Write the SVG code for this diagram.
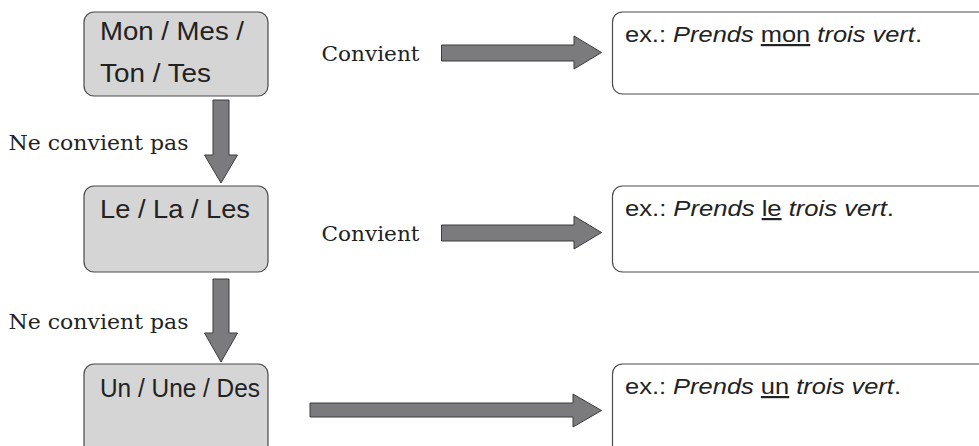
<svg xmlns="http://www.w3.org/2000/svg" width="979" height="446" viewBox="0 0 979 446">
<style>
.lb{fill:#d5d5d6;stroke:#4a4a4a;stroke-width:1.2}
.rb{fill:#ffffff;stroke:#4a4a4a;stroke-width:1.2}
.ar{fill:#7b7b7e;stroke:#3c3c3c;stroke-width:1}
.s{font-family:"Liberation Sans",Arial,sans-serif;font-size:25px;fill:#222}
.e{font-family:"Liberation Sans",Arial,sans-serif;font-size:22px;fill:#222}
.r{font-family:"DejaVu Serif","Liberation Serif",serif;font-size:20px;fill:#222}
.i{font-style:italic}
.u{text-decoration:underline}
</style>
<rect width="979" height="446" fill="#ffffff"/>
<g id="connectors">
<path class="ar" d="M441.5,45 L574,45 L574,36 L601.5,52.5 L574,69 L574,61 L441.5,61 Z"/>
<path class="ar" d="M441.5,225 L574,225 L574,216 L601.5,232.5 L574,249 L574,241 L441.5,241 Z"/>
<path class="ar" d="M310,403 L573,403 L573,394 L601.5,410.5 L573,427 L573,417 L310,417 Z"/>
<path class="ar" d="M213,100 L229,100 L229,155 L237.5,155 L221,183 L204.5,155 L213,155 Z"/>
<path class="ar" d="M213,279 L229,279 L229,333 L237.5,333 L221,362 L204.5,333 L213,333 Z"/>
<text class="r" x="321.5" y="61" textLength="98" lengthAdjust="spacingAndGlyphs">Convient</text>
<text class="r" x="321.5" y="240.5" textLength="98" lengthAdjust="spacingAndGlyphs">Convient</text>
<text class="r" x="8.5" y="150" textLength="180" lengthAdjust="spacingAndGlyphs">Ne convient pas</text>
<text class="r" x="8.5" y="329" textLength="180" lengthAdjust="spacingAndGlyphs">Ne convient pas</text>
</g>
<g id="n1">
<rect class="lb" x="84" y="12" width="184" height="84" rx="10"/>
<text class="s" x="100" y="40" textLength="144" lengthAdjust="spacingAndGlyphs">Mon / Mes /</text>
<text class="s" x="100" y="81.5" textLength="111" lengthAdjust="spacingAndGlyphs">Ton / Tes</text>
</g>
<g id="n2">
<rect class="lb" x="84" y="186" width="184" height="86" rx="10"/>
<text class="s" x="100" y="218" textLength="150" lengthAdjust="spacingAndGlyphs">Le / La / Les</text>
</g>
<g id="n3">
<rect class="lb" x="84" y="364" width="184" height="92" rx="10"/>
<text class="s" x="100" y="397" textLength="160" lengthAdjust="spacingAndGlyphs">Un / Une / Des</text>
</g>
<g id="e1">
<rect class="rb" x="612.5" y="12" width="380" height="82" rx="10"/>
<text class="e" x="625" y="42" textLength="297" lengthAdjust="spacingAndGlyphs">ex.: <tspan class="i">Prends</tspan> <tspan class="u">mon</tspan> <tspan class="i">trois vert</tspan>.</text>
</g>
<g id="e2">
<rect class="rb" x="612.5" y="186" width="380" height="86" rx="10"/>
<text class="e" x="625" y="216" textLength="269" lengthAdjust="spacingAndGlyphs">ex.: <tspan class="i">Prends</tspan> <tspan class="u">le</tspan> <tspan class="i">trois vert</tspan>.</text>
</g>
<g id="e3">
<rect class="rb" x="612.5" y="364" width="380" height="92" rx="10"/>
<text class="e" x="625" y="394" textLength="276" lengthAdjust="spacingAndGlyphs">ex.: <tspan class="i">Prends</tspan> <tspan class="u">un</tspan> <tspan class="i">trois vert</tspan>.</text>
</g>
</svg>
